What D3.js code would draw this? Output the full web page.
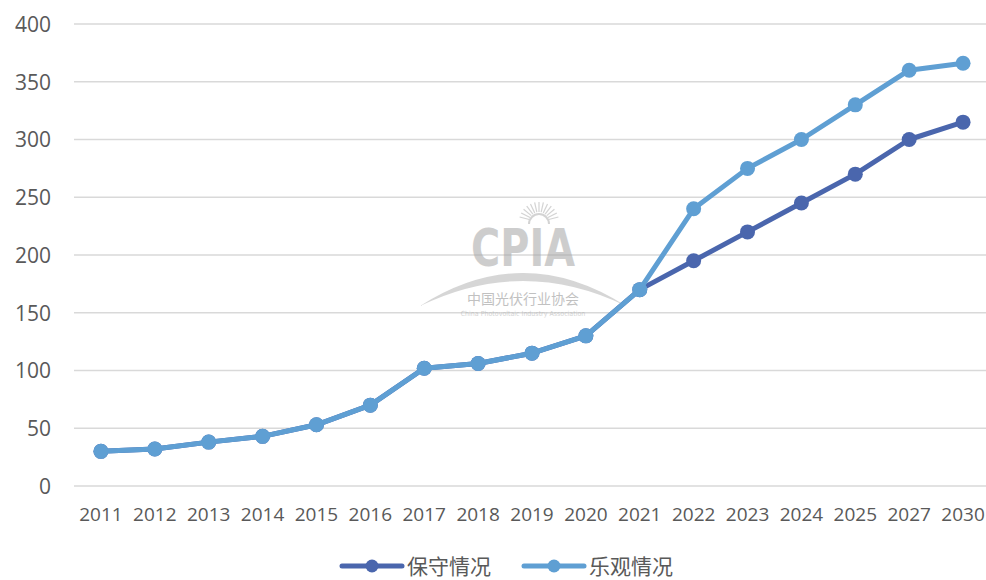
<!DOCTYPE html>
<html><head><meta charset="utf-8">
<script src="https://cdn.jsdelivr.net/npm/d3@7"></script>
<style>body{margin:0;background:#fff}svg{display:block}</style>
</head><body>
<svg id="c" width="986" height="580"></svg>
<script>
const categories = ["2011","2012","2013","2014","2015","2016","2017","2018","2019","2020","2021","2022","2023","2024","2025","2027","2030"];
const conservative = [30,32,38,43,53,70,102,106,115,130,170,195,220,245,270,300,315];
const optimistic   = [30,32,38,43,53,70,102,106,115,130,170,240,275,300,330,360,366];
const yTicks = [0,50,100,150,200,250,300,350,400];
const seriesNames = ["保守情况","乐观情况"];
const colors = ["#4a66ad","#5f9fd3"];

const svg = d3.select("#c");
const font = "'Open Sans','Noto Sans CJK SC',sans-serif";
const x = d3.scaleBand().domain(categories).range([74, 990]);
const y = d3.scaleLinear().domain([0,400]).range([486, 24]);

// gridlines
svg.append("g").selectAll("line").data(yTicks).join("line")
  .attr("x1",74).attr("x2",990).attr("y1",d=>y(d)).attr("y2",d=>y(d))
  .attr("stroke","#d9d9d9").attr("stroke-width",1.5);

// y labels
const yAxis = svg.append("g").attr("transform","translate(51,0)")
  .call(d3.axisLeft(y).tickValues(yTicks).tickSize(0).tickPadding(0));
yAxis.select(".domain").remove();
yAxis.selectAll("text").attr("font-family",font).attr("font-size",21).attr("fill","#595959").attr("dy","0.35em");

// x labels
const xAxis = svg.append("g").attr("transform","translate(0,500)")
  .call(d3.axisBottom(x).tickSize(0).tickPadding(8));
xAxis.select(".domain").remove();
xAxis.selectAll("text").attr("font-family",font).attr("font-size",19).attr("fill","#595959");

// watermark
const wm = svg.append("g").attr("opacity",0.55).attr("fill","#a6a6a6");
const cx = 523;
for (let i=-6;i<=6;i++){
  const a = -Math.PI/2 + i*0.22;
  wm.append("line").attr("x1",cx+16+Math.cos(a)*10).attr("y1",222+Math.sin(a)*10)
    .attr("x2",cx+16+Math.cos(a)*20).attr("y2",222+Math.sin(a)*20)
    .attr("stroke","#b0b0b0").attr("stroke-width",1.2);
}
wm.append("path").attr("d",`M${cx+6},224 A10,10 0 0 1 ${cx+26},224`).attr("fill","none").attr("stroke","#b0b0b0").attr("stroke-width",2);
wm.append("text").attr("x",cx).attr("y",266).attr("text-anchor","middle")
  .attr("font-family","'DejaVu Sans Condensed','Liberation Sans Narrow',sans-serif").attr("font-weight","bold")
  .attr("font-size",52).attr("textLength",104).attr("lengthAdjust","spacingAndGlyphs").text("CPIA");
wm.append("path").attr("d","M420,306 Q523,240 626,306 Q523,256 420,306 Z").attr("fill","#b5b5b5");
wm.append("text").attr("x",cx).attr("y",304).attr("text-anchor","middle")
  .attr("font-family","'Noto Sans CJK SC',sans-serif").attr("font-size",14).attr("fill","#909090").text("中国光伏行业协会");
wm.append("text").attr("x",cx).attr("y",316).attr("text-anchor","middle")
  .attr("font-family","'DejaVu Sans Condensed',sans-serif").attr("font-size",7).attr("fill","#b0b0b0").text("China Photovoltaic Industry Association");

// lines
const series = [conservative, optimistic];
const line = d3.line().x((d,i)=>x(categories[i])+x.bandwidth()/2).y(d=>y(d));
series.forEach((s,k)=>{
  const g = svg.append("g");
  g.append("path").datum(s).attr("d",line).attr("fill","none")
    .attr("stroke",colors[k]).attr("stroke-width",5).attr("stroke-linejoin","round");
  g.selectAll("circle").data(s).join("circle")
    .attr("cx",(d,i)=>x(categories[i])+x.bandwidth()/2).attr("cy",d=>y(d)).attr("r",7.5)
    .attr("fill",colors[k]);
});

// legend
const legX = [342, 524];
seriesNames.forEach((n,k)=>{
  const g = svg.append("g").attr("transform",`translate(${legX[k]},566)`);
  g.append("line").attr("x1",0).attr("x2",60).attr("y1",0).attr("y2",0)
    .attr("stroke",colors[k]).attr("stroke-width",5).attr("stroke-linecap","round");
  g.append("circle").attr("cx",30).attr("cy",0).attr("r",6.5).attr("fill",colors[k]);
  g.append("text").attr("x",65).attr("y",0).attr("dy","0.36em")
    .attr("font-family",font).attr("font-size",21).attr("fill","#595959").text(n);
});
</script>
</body></html>
